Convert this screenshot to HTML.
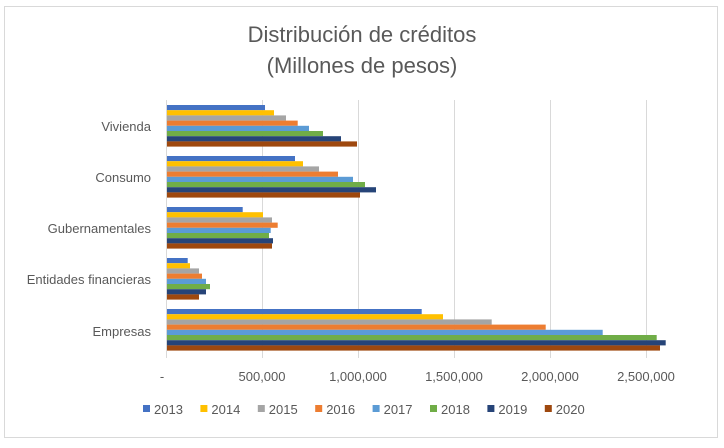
<!DOCTYPE html>
<html><head><meta charset="utf-8"><style>
body{margin:0;background:#fff}
svg text{font-family:"Liberation Sans",sans-serif;fill:#595959}
</style></head><body>
<svg id="s" width="724" height="443" xmlns="http://www.w3.org/2000/svg">
<rect x="4.5" y="6.5" width="713" height="431" fill="#fff" stroke="#d9d9d9"/>
<text x="362" y="42" text-anchor="middle" font-size="22">Distribución de créditos</text>
<text x="362" y="73" text-anchor="middle" font-size="22">(Millones de pesos)</text>
<g stroke="#d9d9d9" stroke-width="1">
<line x1="262.5" y1="100" x2="262.5" y2="358"/>
<line x1="358.5" y1="100" x2="358.5" y2="358"/>
<line x1="454.5" y1="100" x2="454.5" y2="358"/>
<line x1="550.5" y1="100" x2="550.5" y2="358"/>
<line x1="646.5" y1="100" x2="646.5" y2="358"/>
<line x1="166.5" y1="100" x2="166.5" y2="358"/>
</g>
<g id="bars"></g>
<g font-size="13" text-anchor="end">
<text x="151" y="131">Vivienda</text>
<text x="151" y="182">Consumo</text>
<text x="151" y="233">Gubernamentales</text>
<text x="151" y="284">Entidades financieras</text>
<text x="151" y="336">Empresas</text>
</g>
<g font-size="13" text-anchor="middle">
<text x="162" y="381">-</text>
<text x="262" y="381">500,000</text>
<text x="358" y="381">1,000,000</text>
<text x="454" y="381">1,500,000</text>
<text x="550" y="381">2,000,000</text>
<text x="646" y="381">2,500,000</text>
</g>
<g id="leg" font-size="13"></g>
</svg>
<script>
var C=["#4472c4","#ffc000","#a5a5a5","#ed7d31","#5b9bd5","#70ad47","#264478","#9e480e"];
var E=[[265,274,286,297.7,309,323,341,357],[295,303,319,338,353,365,376,360],[242.7,263,272,277.7,270.7,269,273,272],[187.7,190,199,202,206,210,206,199],[421.7,443,491.7,545.7,602.7,656.7,665.7,660]];
var T=[105,156,207,258,309];
var ns="http://www.w3.org/2000/svg",g=document.getElementById("bars"),L=document.getElementById("leg");
for(var c=0;c<5;c++)for(var i=0;i<8;i++){var r=document.createElementNS(ns,"rect");r.setAttribute("x",167);r.setAttribute("y",T[c]+i*5.2);r.setAttribute("width",E[c][i]-167);r.setAttribute("height",5.2);r.setAttribute("fill",C[i]);g.appendChild(r);}
for(var i=0;i<8;i++){var x=143+i*57.4;var r=document.createElementNS(ns,"rect");r.setAttribute("x",x);r.setAttribute("y",405);r.setAttribute("width",7);r.setAttribute("height",7);r.setAttribute("fill",C[i]);L.appendChild(r);var t=document.createElementNS(ns,"text");t.setAttribute("x",x+11);t.setAttribute("y",414);t.textContent=2013+i;L.appendChild(t);}
</script>
</body></html>
